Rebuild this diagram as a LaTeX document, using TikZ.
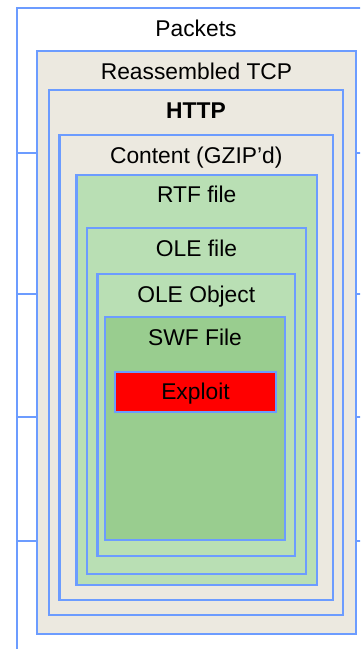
\documentclass[tikz,border=0pt]{standalone}
\usepackage{fontspec}
\setmainfont{Liberation Sans}
\definecolor{edge}{RGB}{108,156,255}
\definecolor{beige}{RGB}{236,233,224}
\definecolor{lightgreen}{RGB}{185,223,180}
\definecolor{darkgreen}{RGB}{153,205,143}
\definecolor{hot}{RGB}{255,0,0}
\begin{document}
\begin{tikzpicture}[x=1pt,y=-1pt,
  box/.style={draw=edge, line width=2.2pt, rectangle, inner sep=0pt, outer sep=0pt, anchor=north west},
  lbl/.style={anchor=base, inner sep=0pt, font=\fontsize{22.8}{26}\selectfont},
  sep/.style={draw=edge, line width=2.2pt}]
\useasboundingbox (0,0) rectangle (360,649);
\fill[white] (0,0) rectangle (360,649);
\clip (0,0) rectangle (360,649);

% outer packet stream (runs past the right and bottom edges)
\node[box, fill=white, minimum width=370pt, minimum height=660pt] (pk) at (17,8) {};
\node[lbl] (pkT) at (196,36.7) {Packets};

% packet boundaries
\foreach \yy in {153,294,417,541}
  \draw[sep] (17,\yy) -- (372,\yy);

% nested layers
\node[box, fill=beige, minimum width=319pt, minimum height=583pt] (tcp) at (37,51) {};
\node[lbl] (tcpT) at ([yshift=-28pt]tcp.north) {Reassembled TCP};

\node[box, fill=beige, minimum width=294pt, minimum height=525pt] (http) at (49,90) {};
\node[lbl] (httpT) at ([yshift=-28pt]http.north) {\bfseries HTTP};

\node[box, fill=beige, minimum width=273.5pt, minimum height=465pt] (gz) at (59.5,135) {};
\node[lbl] (gzT) at ([yshift=-28pt]gz.north) {Content (GZIP’d)};

\node[box, fill=lightgreen, minimum width=240.5pt, minimum height=410pt] (rtf) at (76.5,175) {};
\node[lbl] (rtfT) at ([yshift=-27pt]rtf.north) {RTF file};

\node[box, fill=lightgreen, minimum width=219pt, minimum height=346pt] (olef) at (87,228) {};
\node[lbl] (olefT) at ([yshift=-28pt]olef.north) {OLE file};

\node[box, fill=lightgreen, minimum width=197.5pt, minimum height=282pt] (oleo) at (97.5,274) {};
\node[lbl] (oleoT) at ([yshift=-28pt]oleo.north) {OLE Object};

\node[box, fill=darkgreen, minimum width=180pt, minimum height=223pt] (swf) at (105,317) {};
\node[lbl] (swfT) at ([yshift=-28.5pt]swf.north) {SWF File};

\node[box, fill=hot, minimum width=161pt, minimum height=40pt] (xp) at (115,372) {};
\node[lbl] (xpT) at ([yshift=-27pt]xp.north) {Exploit};
\end{tikzpicture}
\end{document}
